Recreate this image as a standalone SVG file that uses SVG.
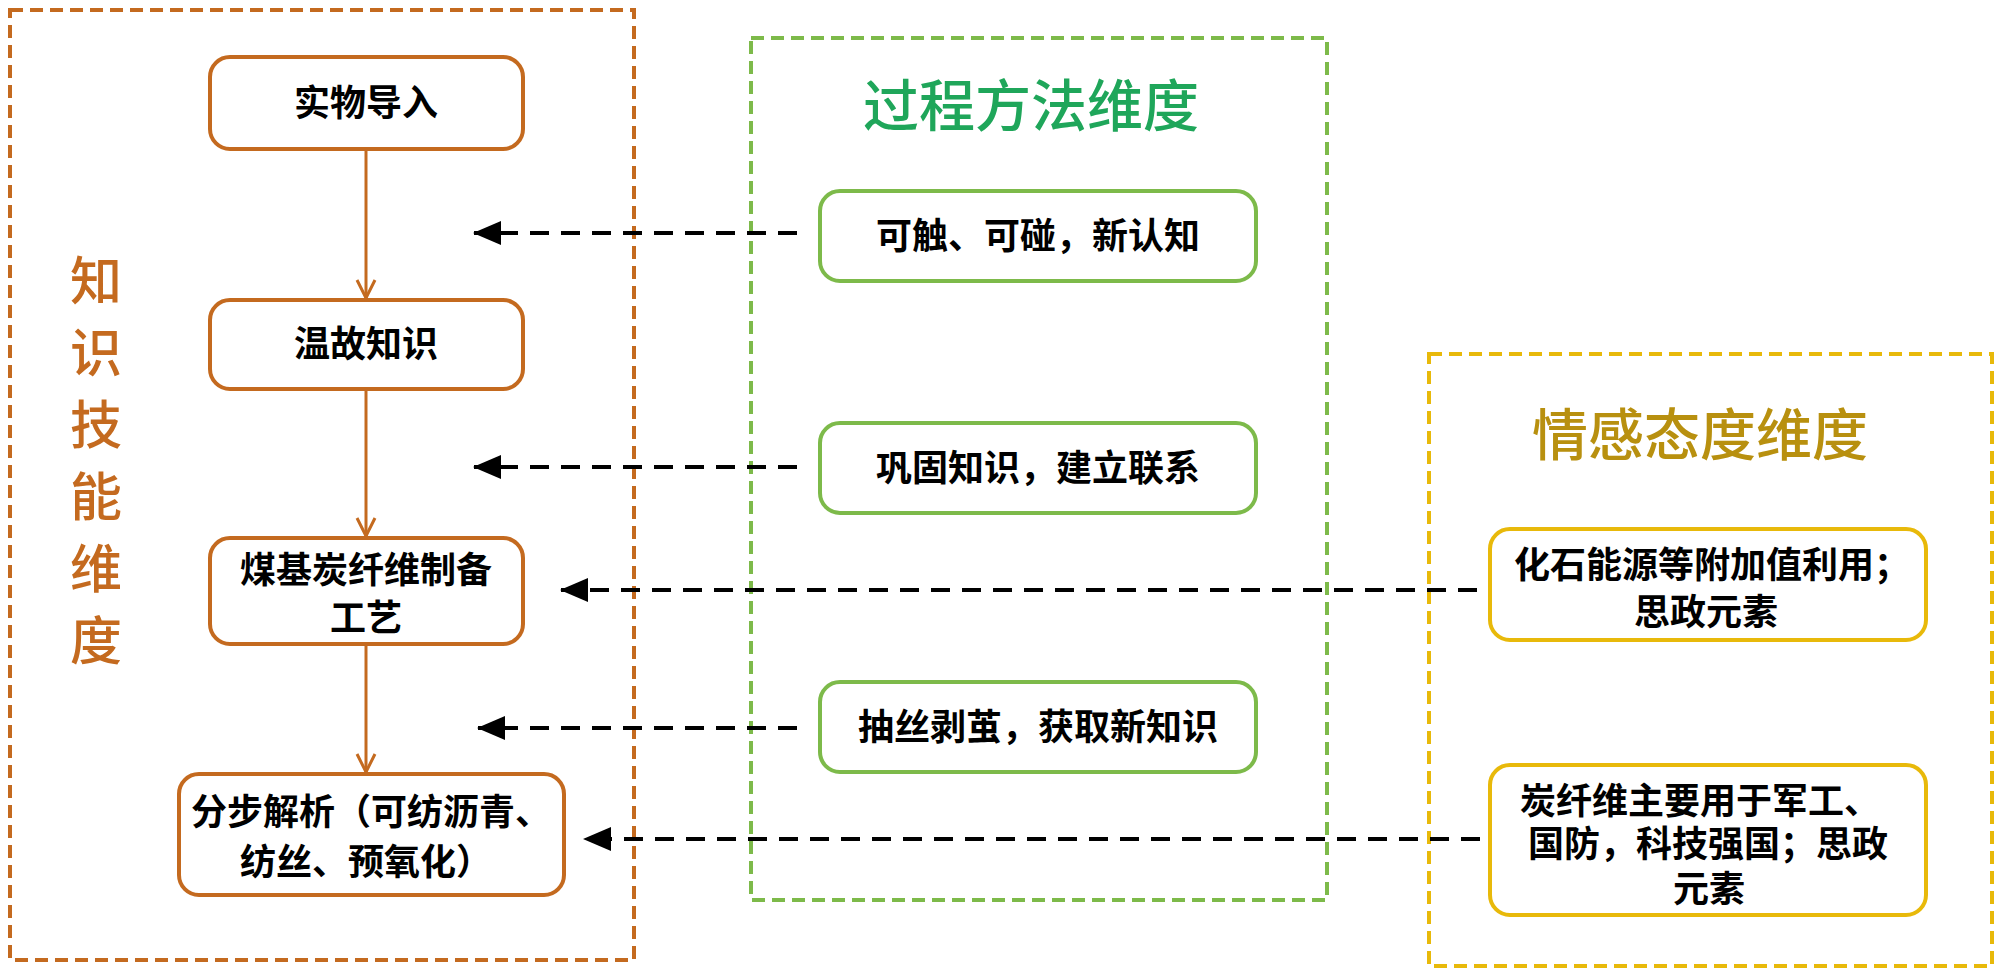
<svg xmlns="http://www.w3.org/2000/svg" width="2000" height="974" viewBox="0 0 2000 974">
<style>
.t{font-family:"Liberation Serif","Noto Sans CJK SC",serif;font-weight:700;font-size:36px;fill:#000;text-anchor:middle}
.ttl{font-family:"Liberation Serif","Noto Sans CJK SC",serif;font-weight:500;text-anchor:middle}
.ob{fill:#fff;stroke:#C46A1F;stroke-width:4}
.gb{fill:#fff;stroke:#7DBA4A;stroke-width:4}
.yb{fill:#fff;stroke:#E8B90A;stroke-width:4}
.dash{fill:none;stroke:#000;stroke-width:4;stroke-dasharray:19 12}
.flow{fill:none;stroke:#C46A1F;stroke-width:3}
</style>
<defs>
<marker id="tri" viewBox="0 0 28 24" refX="27" refY="12" markerWidth="28" markerHeight="24" markerUnits="userSpaceOnUse" orient="auto">
<path d="M0,0 L28,12 L0,24 Z" fill="#000"/>
</marker>
<marker id="vee" viewBox="0 0 22 22" refX="20" refY="11" markerWidth="22" markerHeight="22" markerUnits="userSpaceOnUse" orient="auto">
<path d="M2,2 L20,11 L2,20" fill="none" stroke="#C46A1F" stroke-width="3"/>
</marker>
</defs>
<rect width="2000" height="974" fill="#fff"/>

<g id="container-knowledge">
<rect x="10" y="10" width="624" height="950" fill="none" stroke="#C46A1F" stroke-width="4" stroke-dasharray="13 7"/>
<text class="ttl" font-size="52" fill="#C46A1F">
<tspan x="96" y="300">知</tspan><tspan x="96" y="372">识</tspan><tspan x="96" y="444">技</tspan><tspan x="96" y="516">能</tspan><tspan x="96" y="588">维</tspan><tspan x="96" y="660">度</tspan>
</text>
</g>

<g id="container-process">
<rect x="751" y="38" width="576" height="862" fill="none" stroke="#7DBA4A" stroke-width="4" stroke-dasharray="13 7"/>
<text class="ttl" x="1031" y="126" font-size="56" fill="#1FA65A">过程方法维度</text>
</g>

<g id="container-emotion">
<rect x="1429" y="354" width="563" height="612" fill="none" stroke="#E8B90A" stroke-width="4" stroke-dasharray="13 7"/>
<text class="ttl" x="1700" y="455" font-size="56" fill="#B8900F">情感态度维度</text>
</g>

<g id="connectors">
<line class="flow" x1="366" y1="149" x2="366" y2="298" marker-end="url(#vee)"/>
<line class="flow" x1="366" y1="389" x2="366" y2="536" marker-end="url(#vee)"/>
<line class="flow" x1="366" y1="644" x2="366" y2="772" marker-end="url(#vee)"/>
<line class="dash" x1="797" y1="233" x2="474" y2="233" marker-end="url(#tri)"/>
<line class="dash" x1="797" y1="467" x2="474" y2="467" marker-end="url(#tri)"/>
<line class="dash" x1="1477" y1="590" x2="561" y2="590" marker-end="url(#tri)"/>
<line class="dash" x1="797" y1="728" x2="478" y2="728" marker-end="url(#tri)"/>
<line class="dash" x1="1480" y1="839" x2="584" y2="839" marker-end="url(#tri)"/>
</g>

<g id="node-shiwu">
<rect class="ob" x="210" y="57" width="313" height="92" rx="20"/>
<text class="t" x="366" y="116">实物导入</text>
</g>
<g id="node-wengu">
<rect class="ob" x="210" y="300" width="313" height="89" rx="20"/>
<text class="t" x="366" y="357">温故知识</text>
</g>
<g id="node-meiji">
<rect class="ob" x="210" y="538" width="313" height="106" rx="20"/>
<text class="t" x="366" y="583" font-size="38">煤基炭纤维制备</text>
<text class="t" x="366" y="631" font-size="38">工艺</text>
</g>
<g id="node-fenbu">
<rect class="ob" x="179" y="774" width="385" height="121" rx="20"/>
<text class="t" x="371" y="825">分步解析（可纺沥青、</text>
<text class="t" x="366" y="875">纺丝、预氧化）</text>
</g>

<g id="node-kechu">
<rect class="gb" x="820" y="191" width="436" height="90" rx="20"/>
<text class="t" x="1038" y="249" font-size="37">可触、可碰，新认知</text>
</g>
<g id="node-gonggu">
<rect class="gb" x="820" y="423" width="436" height="90" rx="20"/>
<text class="t" x="1038" y="481" font-size="37">巩固知识，建立联系</text>
</g>
<g id="node-chousi">
<rect class="gb" x="820" y="682" width="436" height="90" rx="20"/>
<text class="t" x="1038" y="740" font-size="37">抽丝剥茧，获取新知识</text>
</g>

<g id="node-huashi">
<rect class="yb" x="1490" y="529" width="436" height="111" rx="20"/>
<text class="t" x="1712" y="578">化石能源等附加值利用；</text>
<text class="t" x="1706" y="625">思政元素</text>
</g>
<g id="node-tanxianwei">
<rect class="yb" x="1490" y="765" width="436" height="150" rx="20"/>
<text class="t" x="1700" y="814">炭纤维主要用于军工、</text>
<text class="t" x="1708" y="857">国防，科技强国；思政</text>
<text class="t" x="1709" y="902">元素</text>
</g>
</svg>
